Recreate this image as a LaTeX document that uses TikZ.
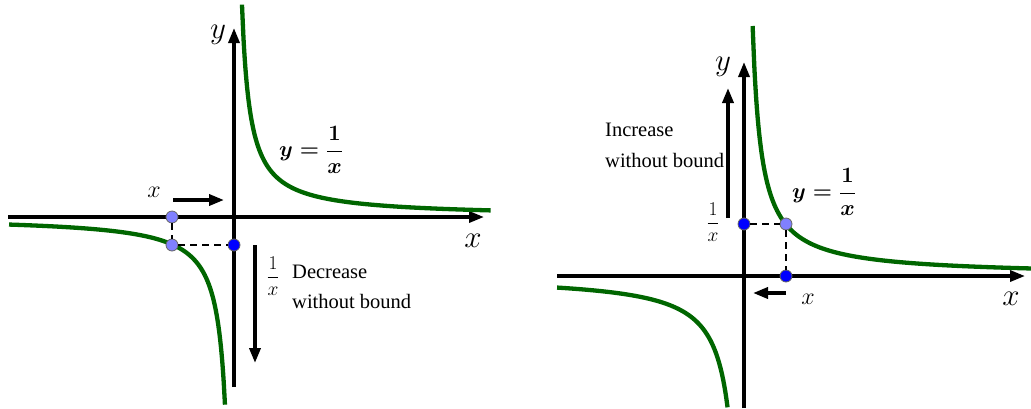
\documentclass[tikz,border=0pt]{standalone}
\usepackage{fix-cm}
\usepackage{amsmath}
\usepackage[no-math]{fontspec}
\setmainfont{Liberation Serif}
\usetikzlibrary{arrows.meta, positioning}

\definecolor{curvegreen}{RGB}{0,102,0}
\definecolor{ptlight}{RGB}{128,128,255}
\definecolor{ptdark}{RGB}{0,0,255}

\begin{document}
\begin{tikzpicture}[x=1pt, y=-1pt,
    axis/.style={line width=3.3pt, -{Triangle[length=15pt, width=11pt]}},
    move/.style={line width=3.5pt, -{Triangle[length=15pt, width=11pt]}},
    curve/.style={curvegreen, line width=4.3pt},
    guide/.style={line width=2.6pt, dash pattern=on 7pt off 5pt},
    lightdot/.style={circle, draw=black!60, fill=ptlight, line width=0.8pt, minimum size=12pt, inner sep=0pt},
    darkdot/.style={circle, draw=black!60, fill=ptdark, line width=0.8pt, minimum size=12pt, inner sep=0pt},
    lab/.style={font=\fontsize{20.5}{30}\selectfont, inner sep=0pt},
    axlab/.style={font=\fontsize{31}{34}\selectfont, inner sep=0pt},
    varlab/.style={font=\fontsize{24}{26}\selectfont, inner sep=0pt},
    fraclab/.style={font=\fontsize{19.5}{22}\selectfont, inner sep=0pt},
    eq/.style={font=\fontsize{22}{26}\selectfont\boldmath, inner sep=0pt}
]
\useasboundingbox (0,0) rectangle (1031,408);

% Left: x goes to 0 from the left
\coordinate (xa1) at (8,217);
\coordinate (xb1) at (484,217);
\coordinate (ya1) at (234,387);
\coordinate (yb1) at (234,28);
\draw[axis] (xa1) -- (xb1);
\draw[axis] (ya1) -- (yb1);

\begin{scope}[shift={(234pt,-217pt)}, x=41.2pt, y=41.2pt]
  \draw[curve] plot[domain=0.194:6.23, samples=160, smooth] (\x, {1/\x});
  \draw[curve] plot[domain=-5.46:-0.219, samples=160, smooth] (\x, {1/\x});
\end{scope}

% Nodes
\node[axlab] (ylab1) at (218,35) {$y$};
\node[axlab] (xlab1) at (473,241) {$x$};
\node[varlab] (xvar1) at (154,192) {$x$};
\node[eq] (eq1) at (311,150) {$y=\dfrac{1}{x}$};
\node[fraclab] (inv1) at (273,276) {$\dfrac{1}{x}$};
\node[lab, anchor=base west] (dec1) at (292,278) {Decrease};
\node[lab, anchor=base west] (dec2) at ([yshift=-30pt]dec1.base west) {without bound};
\coordinate (ma1) at (173,200);
\coordinate (mb1) at (224,200);
\coordinate (da1) at (255,245);
\coordinate (db1) at (255,363);

\node[lightdot] (p1) at (172,217) {};
\node[lightdot] (p2) at (172,245) {};
\node[darkdot] (p3) at (234,245) {};

% Connections
\draw[move] (ma1) -- (mb1);
\draw[move] (da1) -- (db1);
\draw[guide] (p1) -- (p2);
\draw[guide] (p2) -- (p3);

% Right: x goes to 0 from the right
\coordinate (xa2) at (557,276);
\coordinate (xb2) at (1025,276);
\coordinate (ya2) at (744,408);
\coordinate (yb2) at (744,62);
\draw[axis] (xa2) -- (xb2);
\draw[axis] (ya2) -- (yb2);

\begin{scope}[shift={(744pt,-276pt)}, x=46.5pt, y=46.5pt]
  \draw[curve] plot[domain=0.186:6.17, samples=160, smooth] (\x, {1/\x});
  \draw[curve] plot[domain=-4.02:-0.352, samples=160, smooth] (\x, {1/\x});
\end{scope}

% Nodes
\node[axlab] (ylab2) at (723,67) {$y$};
\node[axlab] (xlab2) at (1011,299) {$x$};
\node[varlab] (xvar2) at (808,299) {$x$};
\node[eq] (eq2) at (824,192) {$y=\dfrac{1}{x}$};
\node[fraclab] (inv2) at (713,222) {$\dfrac{1}{x}$};
\node[lab, anchor=base west] (inc1) at (605,136) {Increase};
\node[lab, anchor=base west] (inc2) at ([yshift=-31pt]inc1.base west) {without bound};
\coordinate (ma2) at (786,293);
\coordinate (mb2) at (753,293);
\coordinate (ua2) at (728,218);
\coordinate (ub2) at (728,88);

\node[darkdot] (q1) at (744,224) {};
\node[lightdot] (q2) at (786,224) {};
\node[darkdot] (q3) at (786,276) {};

% Connections
\draw[move] (ma2) -- (mb2);
\draw[move] (ua2) -- (ub2);
\draw[guide] (q1) -- (q2);
\draw[guide] (q2) -- (q3);

\end{tikzpicture}
\end{document}
